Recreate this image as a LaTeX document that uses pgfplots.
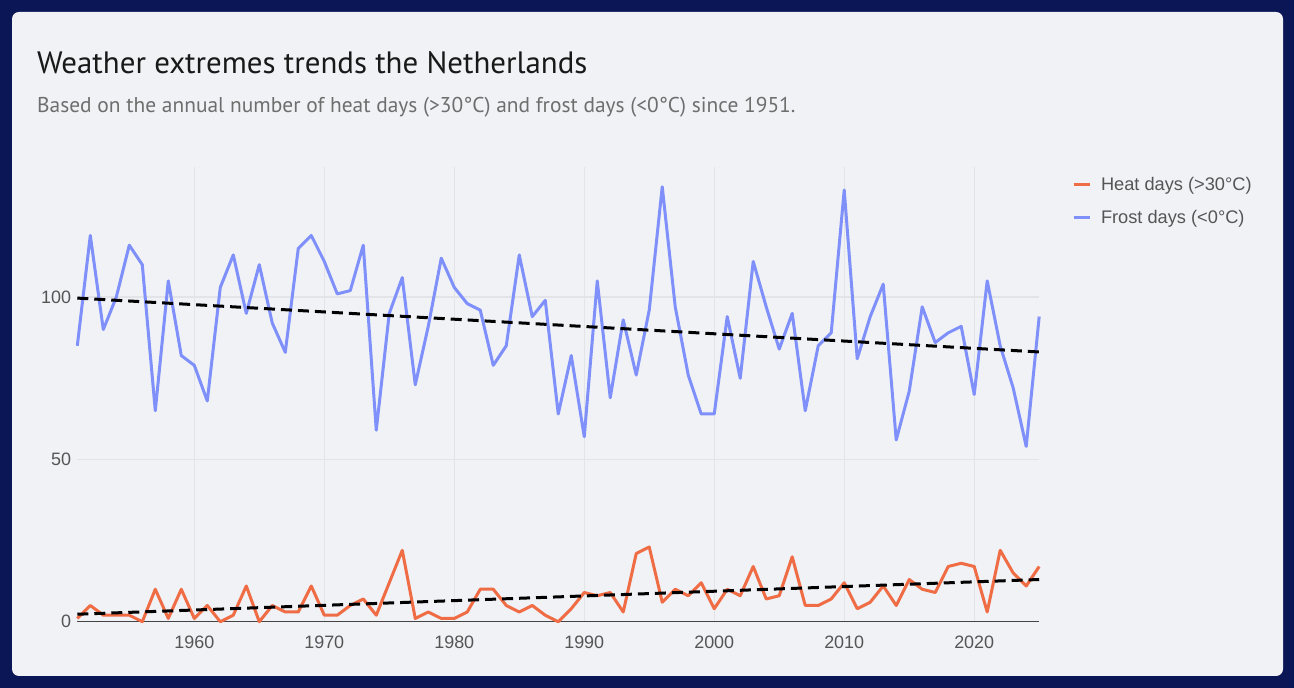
\documentclass[border=0pt]{standalone}
\usepackage{pgfplots}
\pgfplotsset{compat=1.18}
\usepackage{pgfplotstable}
\usepackage{fontspec}
\setmainfont{Liberation Sans}
\newfontfamily\titlefont{PT Sans}
\definecolor{navy}{HTML}{0B1657}
\definecolor{panel}{HTML}{F0F2F6}
\definecolor{heat}{RGB}{239,108,68}
\definecolor{frost}{RGB}{127,144,250}
\definecolor{gridgray}{HTML}{E3E4E8}
\definecolor{axisgray}{HTML}{444444}
\definecolor{tickgray}{HTML}{555555}
\definecolor{subgray}{HTML}{6E6E6E}

\pgfplotstableread{
year heat frost
1951 1 85
1952 5 119
1953 2 90
1954 2 100
1955 2 116
1956 0 110
1957 10 65
1958 1 105
1959 10 82
1960 1 79
1961 5 68
1962 0 103
1963 2 113
1964 11 95
1965 0 110
1966 5 92
1967 3 83
1968 3 115
1969 11 119
1970 2 111
1971 2 101
1972 5 102
1973 7 116
1974 2 59
1975 12 95
1976 22 106
1977 1 73
1978 3 91
1979 1 112
1980 1 103
1981 3 98
1982 10 96
1983 10 79
1984 5 85
1985 3 113
1986 5 94
1987 2 99
1988 0 64
1989 4 82
1990 9 57
1991 8 105
1992 9 69
1993 3 93
1994 21 76
1995 23 96
1996 6 134
1997 10 97
1998 8 76
1999 12 64
2000 4 64
2001 10 94
2002 8 75
2003 17 111
2004 7 97
2005 8 84
2006 20 95
2007 5 65
2008 5 85
2009 7 89
2010 12 133
2011 4 81
2012 6 94
2013 11 104
2014 5 56
2015 13 71
2016 10 97
2017 9 86
2018 17 89
2019 18 91
2020 17 70
2021 3 105
2022 22 85
2023 15 72
2024 11 54
2025 17 94
}\datatable

\begin{document}
\begin{tikzpicture}
\fill[navy] (0bp,0bp) rectangle (1294bp,688bp);
\fill[panel, rounded corners=7bp] (12bp,12bp) rectangle (1283bp,676bp);
\node[anchor=base west, inner sep=0pt, font=\titlefont\fontsize{31}{34}\selectfont, text=black!90] at (37bp,614bp) {Weather extremes trends the Netherlands};
\node[anchor=base west, inner sep=0pt, font=\titlefont\fontsize{21.5}{24}\selectfont, text=subgray] at (37bp,575bp) {Based on the annual number of heat days (>30°C) and frost days (<0°C) since 1951.};
\begin{axis}[
  at={(77.3bp,66.3bp)}, anchor=south west,
  width=961.9bp, height=454.4bp, scale only axis,
  xmin=1951, xmax=2025, ymin=0, ymax=140,
  xtick={1960,1970,...,2020}, ytick={0,50,100},
  /pgf/number format/1000 sep={},
  /pgf/number format/assume math mode=true,
  axis x line*=bottom, axis y line*=left,
  axis line style={-},
  x axis line style={draw=axisgray, line width=1.5bp},
  y axis line style={draw=none},
  major tick length=0pt,
  grid=major,
  major grid style={draw=gridgray, line width=1.3bp},
  tick label style={font=\fontsize{18}{20}\selectfont, text=tickgray},
  xticklabel style={anchor=north, inner sep=0pt, yshift=-14bp},
  yticklabel style={anchor=east, inner sep=0pt, xshift=-6bp},
  clip=false,
  legend style={at={(1.0341,0.9789)}, anchor=north west, draw=none, fill=none,
    inner sep=0pt, outer sep=0pt, row sep=18.4bp, column sep=10bp,
    font=\fontsize{18.3}{19}\selectfont, text=tickgray,
    nodes={inner sep=0pt}},
  legend cell align=left,
  legend image code/.code={\draw[#1, line width=3bp] (0bp,0bp) -- (16bp,0bp);},
]
\addplot[frost, line width=3bp, line join=round, forget plot] table[x=year, y=frost] {\datatable};
\addplot[heat, line width=3bp, line join=round, forget plot] table[x=year, y=heat] {\datatable};
\addplot[black, line width=3bp, dash pattern=on 11bp off 6bp, forget plot] coordinates {(1951,2.3) (2025,13.0)};
\addplot[black, line width=3bp, dash pattern=on 11bp off 6bp, forget plot] coordinates {(1951,99.7) (2025,83.1)};
\addlegendimage{heat}
\addlegendentry{Heat days (>30°C)}
\addlegendimage{frost}
\addlegendentry{Frost days (<0°C)}
\end{axis}
\end{tikzpicture}
\end{document}
